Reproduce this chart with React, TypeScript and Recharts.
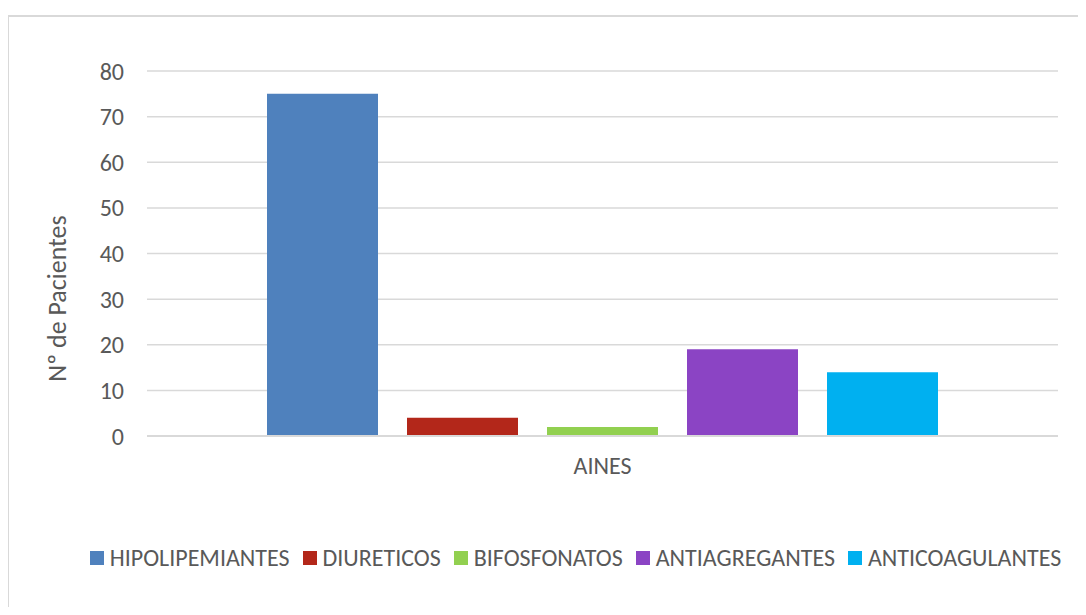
import { Bar, BarChart, CartesianGrid, XAxis, YAxis } from "recharts";

const categories = ["AINES"];
const seriesNames = [
  "HIPOLIPEMIANTES",
  "DIURETICOS",
  "BIFOSFONATOS",
  "ANTIAGREGANTES",
  "ANTICOAGULANTES",
];
const seriesValues = [75, 4, 2, 19, 14];
const seriesColors = ["#4F81BD", "#B3271A", "#92D050", "#8B44C4", "#00B0F0"];
const yTicks = [0, 10, 20, 30, 40, 50, 60, 70, 80];

const FONT = "Calibri, Carlito, 'Open Sans', sans-serif";
const TEXT = "#595959";
const FS = 24;

const data = categories.map((name) => {
  const row: Record<string, string | number> = { name };
  seriesNames.forEach((s, i) => {
    row[s] = seriesValues[i];
  });
  return row;
});

const YTitle = ({ viewBox }: any) => {
  const x = viewBox.x + 20;
  const y = viewBox.y + viewBox.height / 2 + 45;
  return (
    <text
      x={x}
      y={y}
      transform={`rotate(-90 ${x} ${y})`}
      textAnchor="middle"
      dominantBaseline="central"
      fill={TEXT}
      fontSize={26}
      fontFamily={FONT}
    >
      Nº de Pacientes
    </text>
  );
};

export default function App() {
  return (
    <div
      style={{
        position: "relative",
        width: 1086,
        height: 615,
        margin: -8,
        background: "#fff",
        overflow: "hidden",
        fontFamily: FONT,
      }}
    >
      <div
        style={{
          position: "absolute",
          left: 7,
          top: 15,
          width: 1200,
          height: 700,
          border: "2px solid #d9d9d9",
        }}
      />
      <div style={{ position: "absolute", left: 0, top: 0 }}>
        <BarChart
          width={1086}
          height={615}
          data={data}
          margin={{ top: 71, right: 28, bottom: 139, left: 37 }}
          barCategoryGap={120}
          barGap={29}
        >
          <CartesianGrid vertical={false} stroke="#d9d9d9" strokeWidth={1.5} />
          <XAxis
            dataKey="name"
            axisLine={{ stroke: "#d9d9d9", strokeWidth: 2 }}
            tickLine={false}
            tickSize={0}
            tickMargin={21}
            height={40}
            tick={{ fill: TEXT, fontSize: FS, fontFamily: FONT }}
          />
          <YAxis
            width={110}
            domain={[0, 80]}
            ticks={yTicks}
            axisLine={false}
            tickLine={false}
            tickSize={0}
            tickMargin={23}
            tick={{ fill: TEXT, fontSize: FS, fontFamily: FONT }}
            label={{ content: YTitle }}
          />
          {seriesNames.map((s, i) => (
            <Bar
              key={s}
              dataKey={s}
              fill={seriesColors[i]}
              isAnimationActive={false}
            />
          ))}
        </BarChart>
      </div>
      <div
        style={{
          position: "absolute",
          left: 0,
          width: 1151,
          top: 543,
          display: "flex",
          justifyContent: "center",
          alignItems: "center",
          gap: 13,
          color: TEXT,
          fontSize: FS,
          whiteSpace: "nowrap",
        }}
      >
        {seriesNames.map((s, i) => (
          <div key={s} style={{ display: "flex", alignItems: "center" }}>
            <span
              style={{
                display: "inline-block",
                width: 14,
                height: 14,
                background: seriesColors[i],
                marginRight: 6,
              }}
            />
            <span>{s}</span>
          </div>
        ))}
      </div>
    </div>
  );
}
